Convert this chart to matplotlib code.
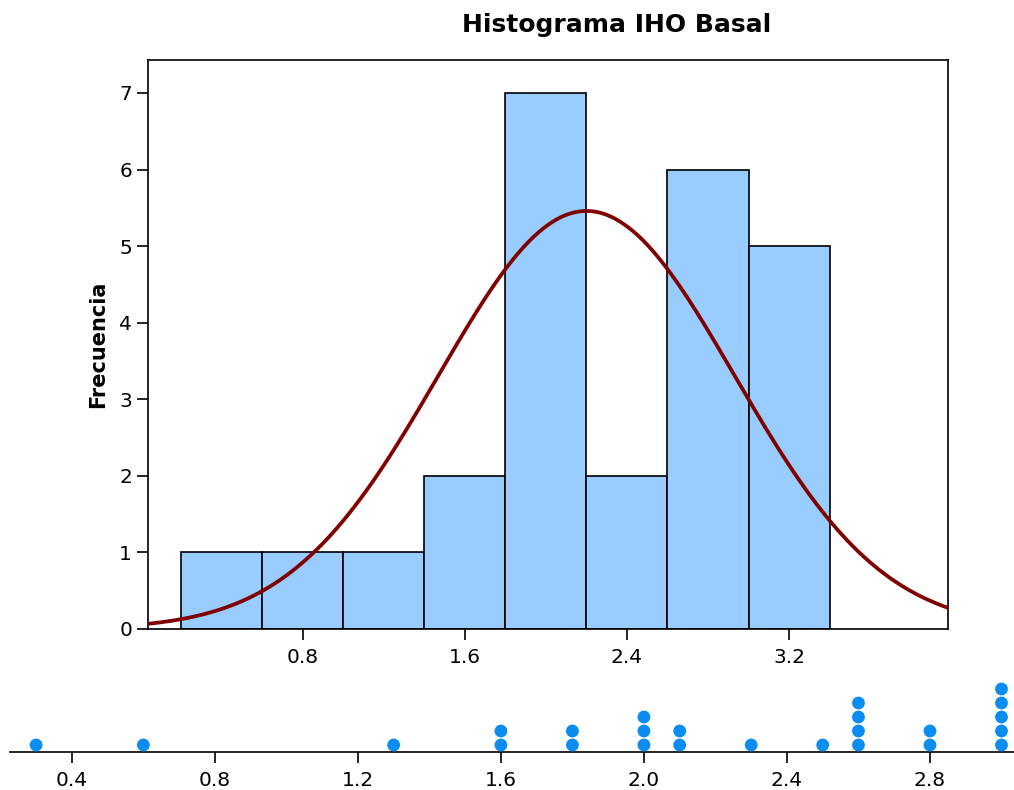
import numpy as np
import matplotlib
matplotlib.use("Agg")
import matplotlib.pyplot as plt

# Data (dotplot values and counts)
values = [0.3, 0.6, 1.3, 1.6, 1.8, 2.0, 2.1, 2.3, 2.5, 2.6, 2.8, 3.0]
counts = [1, 1, 1, 2, 2, 3, 2, 1, 1, 4, 2, 5]
bin_centers = [0.4, 0.8, 1.2, 1.6, 2.0, 2.4, 2.8, 3.2]
bin_width = 0.4
hist_ticks = [0.8, 1.6, 2.4, 3.2]
dot_ticks = [0.4, 0.8, 1.2, 1.6, 2.0, 2.4, 2.8]
title = "Histograma IHO Basal"
ylabel = "Frecuencia"

data = np.repeat(values, counts)
edges = np.array(bin_centers) - bin_width / 2
edges = np.append(edges, bin_centers[-1] + bin_width / 2)
edges = np.round(edges, 6)
freq, _ = np.histogram(data, bins=edges)

fig = plt.figure(figsize=(10.14, 7.90), dpi=100)
ax = fig.add_axes([148/1014, 1-629/790, 800/1014, 569/790])
ax.bar(bin_centers, freq, width=bin_width, color="#99CCFF", edgecolor="black", linewidth=1.2, zorder=2)

mu = data.mean()
sd = data.std(ddof=1)
xx = np.linspace(0.04, 3.985, 300)
yy = len(data) * bin_width / (sd * np.sqrt(2*np.pi)) * np.exp(-0.5*((xx-mu)/sd)**2)
ax.plot(xx, yy, color="#800000", linewidth=2.7, zorder=3)

ax.set_xlim(0.035, 3.985)
ax.set_ylim(0, 7.43)
ax.set_xticks(hist_ticks)
ax.set_xticklabels([f"{t:.1f}" for t in hist_ticks])
ax.set_yticks(range(8))
ax.tick_params(axis="both", labelsize=14.5, length=8, width=1.2, direction="out")
ax.tick_params(axis="x", pad=6)
for s in ax.spines.values():
    s.set_linewidth(1.2)
ax.set_ylabel(ylabel, fontsize=15, fontweight="bold", labelpad=8)

fig.text(617/1014, 1-25/790, title, ha="center", va="center", fontsize=18, fontweight="bold")

# Dotplot
ax2 = fig.add_axes([10/1014, 1-752/790, 1004/1014, 72/790])
for v, c in zip(values, counts):
    ys = np.arange(c) + 0.5
    ax2.scatter([v]*c, ys, s=85, color="#0A8CF0", edgecolors="none", zorder=3, clip_on=False)
ax2.set_xlim(0.227, 3.035)
ax2.set_ylim(0, 72/14)
ax2.set_yticks([])
ax2.set_xticks(dot_ticks)
ax2.set_xticklabels([f"{t:.1f}" for t in dot_ticks])
for k in ["top", "left", "right"]:
    ax2.spines[k].set_visible(False)
ax2.spines["bottom"].set_linewidth(1.2)
ax2.tick_params(axis="x", labelsize=14.5, length=8, width=1.2, pad=6)
ax2.patch.set_alpha(0)

fig.savefig("out.png", dpi=100)
